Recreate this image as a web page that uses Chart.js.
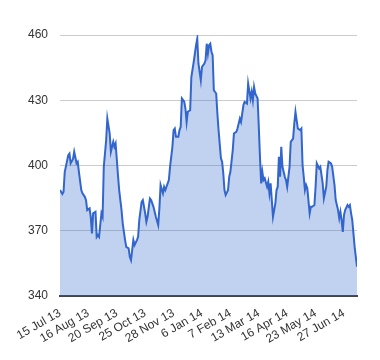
<!DOCTYPE html>
<html>
<head>
<meta charset="utf-8">
<script src="https://cdn.jsdelivr.net/npm/chart.js@4/dist/chart.umd.min.js"></script>
<style>
  html,body{margin:0;padding:0;background:#fff;}
  #wrap{width:380px;height:360px;position:relative;}
</style>
</head>
<body>
<div id="wrap"><canvas id="area-chart"></canvas></div>
<script>
// trading-day number (0 = 15 Jul 13) and closing value
const days=[0,2,3,4,7,8,9,11,12,14,15,16,18,19,21,22,23,25,26,27,28,30,31,32,33,35,36,37,39,40,42,43,45,46,47,49,
  50,52,53,55,56,58,59,60,61,62,63,65,66,67,69,70,72,73,74,76,77,79,80,81,83,84,85,87,88,89,91,92,93,95,96,97,98,100,
  101,102,103,105,106,107,108,110,111,113,114,115,116,117,119,120,122,123,124,125,126,127,128,129,130,132,133,134,136,137,138,139,140,142,143,144,146,147,149,150,
  151,152,153,155,156,158,159,161,162,163,164,165,167,168,169,170,171,172,173,175,176,177,178,179,180,182,183,184,185,186,187,188,190,191,192,194,195,197,198,199,
  201,203,204,205,206,207,208,209,211,212,213,215,216,217,219,220,222,223,225,226,227,229,230,232,233,235,236,237,238,239,240,241,243,244,245,246,247,248,249,250,251];
const prices=[388.7,386.9,387.9,397,404.8,405.5,401,403,406.3,401,401.7,397,388.7,387.2,385.6,384,379.5,380.3,376.4,368.8,378,378.7,367.2,368,367.2,378,376.4,399.4,411.6,421.6,414.7,406.3,410.9,408.6,410.1,395.5,
  388.7,379.5,373.4,365.7,362.6,361.9,358,356.5,361.1,365.7,363.4,365.7,367.2,374.9,383.3,384.1,378,374.1,376.4,384.8,384.1,381,378.7,376.4,372.6,380.3,391,387.2,390.2,388.7,391.8,393.3,399.4,408.6,416.3,417,413.2,413.2,
  416.3,417.8,430.8,429.3,426.2,420,424.7,425.4,440.7,447.6,451.5,455.3,458.3,446.9,439.2,445.3,446.9,448.4,456,451.5,455.3,456,452.3,450.7,434.6,433.1,423.9,416.3,403.3,401.7,396.4,388.7,386.4,388.7,394.8,397.1,407.1,414.7,415.5,417,
  419.3,421.6,420,427.7,429.3,428.5,437.7,430.8,433.9,430,436.1,433.1,430.8,417.8,404,391.8,397.1,393.3,394.1,390.2,392.5,387.2,391.8,384.1,376.4,382.6,388.7,390.2,404,394.8,408.6,399.4,394.8,393.3,390.2,399.4,410.9,412.4,419.3,424.7,
  417,416.3,417,400.2,394.8,388.7,391,389.5,378,381,381,381.8,390.2,401,398.7,399.4,391.8,384.9,390.2,397.9,401.7,401,399.4,391,384.1,379.5,375.7,378.7,374.9,369.5,377.2,379.5,381.8,381,381.8,378,374.9,368.8,362.6,358,353.5];

const tickDays=[0,24,48,72,96,120,144,168,192,216,240];
const tickLabels=['15 Jul 13','16 Aug 13','20 Sep 13','25 Oct 13','28 Nov 13','6 Jan 14','7 Feb 14','13 Mar 14','16 Apr 14','23 May 14','27 Jun 14'];
const yTicks=[340,370,400,430,460];

const points=days.map((d,i)=>({x:d,y:prices[i]}));

const ctx=document.getElementById('area-chart').getContext('2d');
new Chart(ctx,{
  type:'line',
  data:{
    datasets:[{
      data:points,
      borderColor:'#3366cc',
      borderWidth:2,
      backgroundColor:'rgba(51,102,204,0.3)',
      fill:'start',
      pointRadius:0,
      tension:0
    }]
  },
  options:{
    responsive:true,
    maintainAspectRatio:false,
    animation:false,
    layout:{padding:{top:35,right:23,left:0,bottom:0}},
    plugins:{legend:{display:false},tooltip:{enabled:false}},
    scales:{
      x:{
        type:'linear',
        min:0,
        max:251,
        afterBuildTicks:axis=>{axis.ticks=tickDays.map(v=>({value:v}));},
        afterFit:axis=>{axis.height=64;},
        ticks:{
          autoSkip:false,
          minRotation:30,
          maxRotation:30,
          padding:2,
          color:'#333',
          font:{family:'Arial, "Liberation Sans"',size:12},
          callback:v=>tickLabels[tickDays.indexOf(v)]
        },
        grid:{display:false},
        border:{display:true,color:'#444',width:2}
      },
      y:{
        min:340,
        max:460,
        afterBuildTicks:axis=>{axis.ticks=yTicks.map(v=>({value:v}));},
        afterFit:axis=>{axis.width=60;},
        ticks:{
          padding:12,
          color:'#333',
          font:{family:'Arial, "Liberation Sans"',size:12}
        },
        grid:{
          color:c=>c.tick&&c.tick.value===340?'rgba(0,0,0,0)':'#cccccc',
          drawTicks:false
        },
        border:{display:false}
      }
    }
  }
});
</script>
</body>
</html>
